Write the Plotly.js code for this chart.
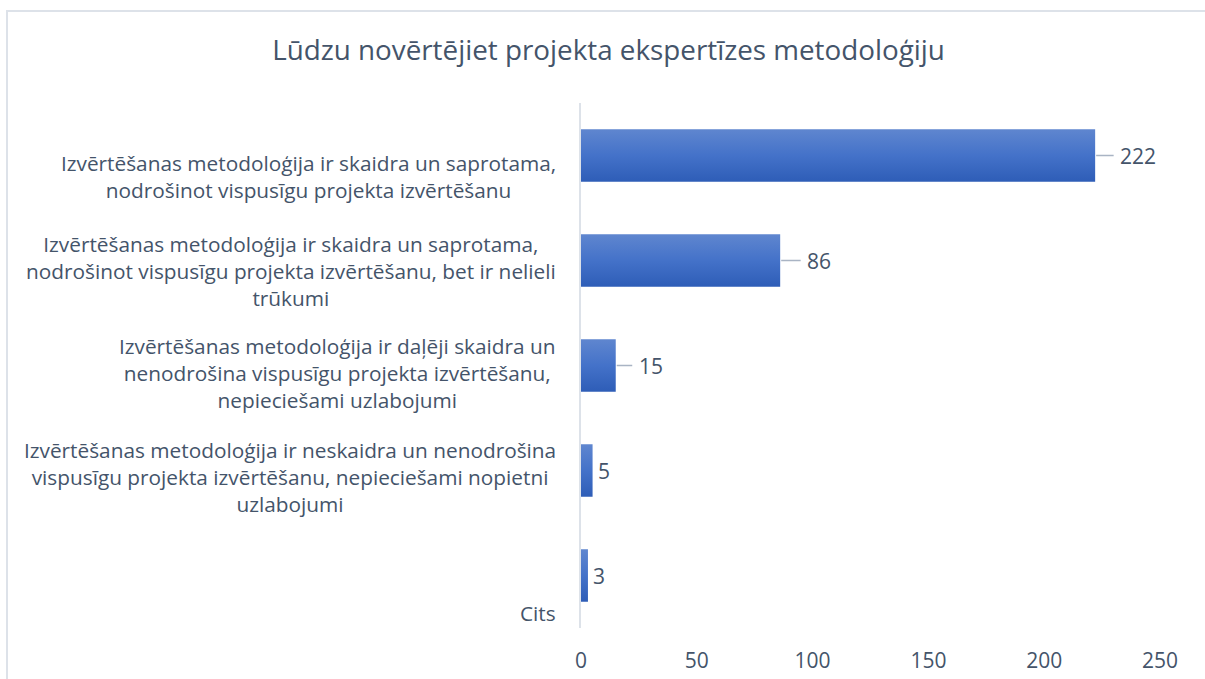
<!DOCTYPE html>
<html>
<head>
<meta charset="utf-8">
<script src="https://cdn.plot.ly/plotly-3.0.1.min.js"></script>
<style>
  html, body { margin: 0; padding: 0; background: #fff; overflow: hidden; }
  #chart { width: 1205px; height: 679px; }
  #frame { position: absolute; left: 6px; top: 10px; width: 1300px; height: 800px;
           border-left: 2px solid #DDE2E9; border-top: 2px solid #DDE2E9; pointer-events: none; }
</style>
</head>
<body>
<div id="chart"></div>
<div id="frame"></div>
<script>
// ---- data ----
const titleText = "Lūdzu novērtējiet projekta ekspertīzes metodoloģiju";
const categories = [
  "Izvērtēšanas metodoloģija ir skaidra un saprotama,<br>nodrošinot vispusīgu projekta izvērtēšanu",
  "Izvērtēšanas metodoloģija ir skaidra un saprotama,<br>nodrošinot vispusīgu projekta izvērtēšanu, bet ir nelieli<br>trūkumi",
  "Izvērtēšanas metodoloģija ir daļēji skaidra un<br>nenodrošina vispusīgu projekta izvērtēšanu,<br>nepieciešami uzlabojumi",
  "Izvērtēšanas metodoloģija ir neskaidra un nenodrošina<br>vispusīgu projekta izvērtēšanu, nepieciešami nopietni<br>uzlabojumi",
  "Cits"
];
const values = [222, 86, 15, 5, 3];
const xTicks = [0, 50, 100, 150, 200, 250];

// ---- style ----
const textColor = "#44546A";
const fontFam = "'Open Sans', 'Noto Sans', sans-serif";
const labelShift = [-21, -10, -7, -6, -37];
const leader = [true, true, true, false, false];
const leaderOffset = [43, 39, 35, 0, 0];

const trace = {
  type: "bar",
  orientation: "h",
  x: values,
  y: categories,
  width: 0.5,
  marker: { color: "#4472C4", line: { width: 0 } },
  hoverinfo: "x"
};

const annotations = [];
categories.forEach((c, i) => {
  annotations.push({
    xref: "paper", yref: "y", x: 0, y: c,
    xanchor: "right", yanchor: "middle", xshift: -23, yshift: labelShift[i],
    text: c, showarrow: false, align: "center",
    font: { family: fontFam, size: 20.8, color: textColor }
  });
  if (leader[i]) {
    annotations.push({
      xref: "x", yref: "y", x: values[i], y: c,
      text: String(values[i]), showarrow: true, arrowhead: 0,
      arrowcolor: "#A9B4C4", arrowwidth: 1.5,
      ax: leaderOffset[i], ay: 0, startstandoff: 5, standoff: 1,
      font: { family: fontFam, size: 21, color: textColor }
    });
  } else {
    annotations.push({
      xref: "x", yref: "y", x: values[i], y: c,
      xanchor: "left", xshift: 3, text: String(values[i]), showarrow: false,
      font: { family: fontFam, size: 21, color: textColor }
    });
  }
});

const layout = {
  width: 1205, height: 679,
  margin: { l: 581, r: 45, t: 103, b: 51 },
  paper_bgcolor: "#ffffff", plot_bgcolor: "#ffffff",
  title: {
    text: titleText, xref: "container", x: 0.505, xanchor: "center",
    yref: "container", y: 0.926, yanchor: "middle",
    font: { family: fontFam, size: 27.8, color: textColor }
  },
  xaxis: {
    range: [0, 250], tickvals: xTicks, ticktext: xTicks.map(String),
    showgrid: false, zeroline: false, showline: false, ticks: "",
    ticklabelstandoff: 18,
    tickfont: { family: fontFam, size: 21, color: textColor }
  },
  yaxis: {
    type: "category", autorange: "reversed", showticklabels: false,
    showgrid: false, zeroline: false, showline: true, linecolor: "#DDE2E9", linewidth: 2,
    ticks: ""
  },
  bargap: 0.5,
  showlegend: false,
  annotations: annotations
};

Plotly.newPlot("chart", [trace], layout, { displayModeBar: false, staticPlot: true }).then(() => {
  const svg = document.querySelector("#chart .main-svg");
  const ns = "http://www.w3.org/2000/svg";
  let defs = svg.querySelector("defs");
  if (!defs) { defs = document.createElementNS(ns, "defs"); svg.insertBefore(defs, svg.firstChild); }
  const grad = document.createElementNS(ns, "linearGradient");
  grad.setAttribute("id", "barGrad");
  grad.setAttribute("x1", "0"); grad.setAttribute("y1", "0");
  grad.setAttribute("x2", "0"); grad.setAttribute("y2", "1");
  [["0", "#5F86CF"], ["0.5", "#4472C9"], ["1", "#2E5DB7"]].forEach(([o, c]) => {
    const s = document.createElementNS(ns, "stop");
    s.setAttribute("offset", o); s.setAttribute("stop-color", c);
    grad.appendChild(s);
  });
  defs.appendChild(grad);
  document.querySelectorAll("#chart .trace.bars .point path").forEach(p => {
    p.style.fill = "url(#barGrad)";
  });
});
</script>
</body>
</html>
